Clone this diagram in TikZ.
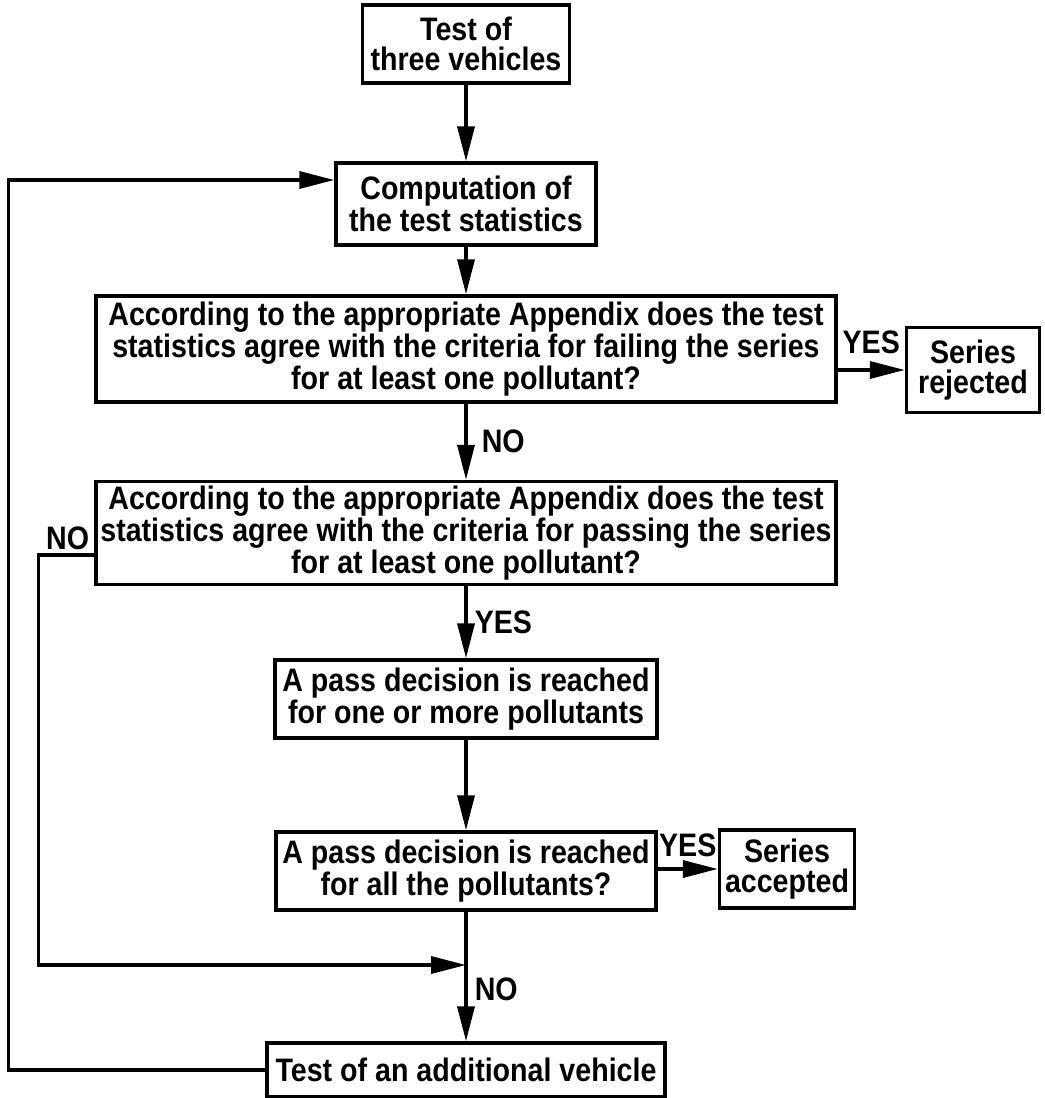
\documentclass[tikz,border=0pt]{standalone}
\usepackage{fontspec}
\setmainfont{Liberation Sans}[FakeStretch=0.88]
\usetikzlibrary{arrows.meta, positioning}
\tikzset{>={Triangle[length=7mm,width=3.4mm]}}
\tikzset{
  flowbox/.style={draw, line width=2pt, align=center, inner sep=1pt,
    font=\bfseries\fontsize{18.5}{17}\selectfont},
  flowline/.style={line width=2pt},
  branch/.style={font=\bfseries\fontsize{18.5}{17}\selectfont, inner sep=4pt}
}

\begin{document}
\begin{tikzpicture}[x=0.02cm, y=-0.02cm]
  \useasboundingbox (0,0) rectangle (1044,1098);
  % main column
  \node[flowbox, minimum width=4.14cm, minimum height=1.56cm] (three) at (466,44) {Test of\\three vehicles};
  \node[flowbox, minimum width=5.2cm, minimum height=1.64cm] (comp) at (466,204) {Computation of\\the test statistics};
  \node[flowbox, minimum width=14.8cm, minimum height=2.12cm] (fail) at (466,349) {According to the appropriate Appendix does the test\\statistics agree with the criteria for failing the series\\for at least one pollutant?};
  \node[flowbox, minimum width=14.8cm, minimum height=2.06cm] (pass) at (466,533) {According to the appropriate Appendix does the test\\statistics agree with the criteria for passing the series\\for at least one pollutant?};
  \node[flowbox, minimum width=7.64cm, minimum height=1.56cm] (reached) at (466,699) {A pass decision is reached\\for one or more pollutants};
  \node[flowbox, minimum width=7.6cm, minimum height=1.56cm] (all) at (466,871) {A pass decision is reached\\for all the pollutants?};
  \node[flowbox, minimum width=7.96cm, minimum height=1.08cm] (extra) at (466,1070) {Test of an additional vehicle};
  % outcomes
  \node[flowbox, minimum width=2.66cm, minimum height=1.7cm] (rej) at (973,370) {Series\\rejected};
  \node[flowbox, minimum width=2.7cm, minimum height=1.56cm] (acc) at (787,869) {Series\\accepted};
  \coordinate (nojoin) at (466,965);

  \draw[flowline,->] (three) -- (comp);
  \draw[flowline,->] (comp) -- (fail);
  \draw[flowline,->] (fail) -- node[branch, right, xshift=4pt] {NO} (pass);
  \draw[flowline,->] (fail.east |- rej.west) -- node[branch, above, yshift=4pt] {YES} (rej.west);
  \draw[flowline,->] (pass) -- node[branch, right] {YES} (reached);
  \draw[flowline,->] (reached) -- (all);
  \draw[flowline,->] (all.east |- acc.west) -- node[branch, above, yshift=2pt] {YES} (acc.west);
  \draw[flowline,->] (all) -- node[branch, right, pos=0.6] {NO} (extra);
  % loops back
  \draw[flowline,->] ([yshift=-0.44cm]pass.west) node[branch, above left, inner sep=2pt] {NO} -- ++(-56,0) |- (nojoin);
  \draw[flowline,->] (extra.west) -- ++(-257,0) |- ([yshift=0.48cm]comp.west);
\end{tikzpicture}
\end{document}
